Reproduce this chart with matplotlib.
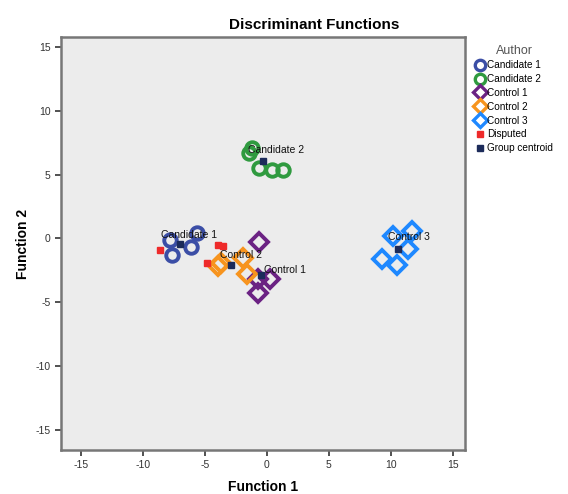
import numpy as np
import matplotlib.pyplot as plt
from matplotlib.lines import Line2D

plt.rcParams['axes.unicode_minus'] = False

# discriminant scores per group (function 1, function 2)
cand1_x = [-7.8, -5.6, -6.1, -7.6]
cand1_y = [-0.1, 0.4, -0.7, -1.3]
cand2_x = [-1.2, -1.4, -0.6, 0.4, 1.3]
cand2_y = [7.1, 6.7, 5.5, 5.4, 5.4]
ctrl1_x = [-0.6, -0.7, 0.3, -0.7]
ctrl1_y = [-0.3, -3.2, -3.2, -4.3]
ctrl2_x = [-3.9, -3.7, -1.9, -1.6]
ctrl2_y = [-2.2, -1.9, -1.5, -2.8]
ctrl3_x = [10.2, 11.7, 11.4, 9.3, 10.5]
ctrl3_y = [0.2, 0.6, -0.8, -1.6, -2.1]
disp_x = [-8.6, -3.9, -3.5, -4.8]
disp_y = [-0.9, -0.5, -0.6, -1.9]

groups = ['Candidate 1', 'Candidate 2', 'Control 1', 'Control 2', 'Control 3']
cent_x = [-7.0, -0.3, -0.5, -2.9, 10.6]
cent_y = [-0.4, 6.1, -2.9, -2.1, -0.8]
label_x = [-8.5, -1.5, -0.2, -3.8, 9.8]
label_y = [0.3, 6.9, -2.5, -1.3, 0.1]

ticks = [-15, -10, -5, 0, 5, 10, 15]

fig = plt.figure(figsize=(5.68, 4.94), dpi=100)
ax = fig.add_axes([0.107, 0.089, 0.712, 0.836])
ax.set_facecolor('#ececec')

blue = '#3b4ea6'
green = '#2f9a3f'
purple = '#6b2283'
orange = '#f7941e'
lblue = '#1e88ff'
red = '#ee2a2a'
navy = '#1c2b5a'

ax.plot(cand1_x, cand1_y, 'o', ms=9, mfc='none', mec=blue, mew=2.8, ls='none')
ax.plot(cand2_x, cand2_y, 'o', ms=9, mfc='none', mec=green, mew=2.8, ls='none')
ax.plot(ctrl1_x, ctrl1_y, 'D', ms=9, mfc='none', mec=purple, mew=2.8, ls='none')
ax.plot(ctrl2_x, ctrl2_y, 'D', ms=9, mfc='none', mec=orange, mew=2.8, ls='none')
ax.plot(ctrl3_x, ctrl3_y, 'D', ms=9, mfc='none', mec=lblue, mew=2.8, ls='none')
ax.plot(disp_x, disp_y, 's', ms=5, color=red, ls='none')
ax.plot(cent_x, cent_y, 's', ms=5, color=navy, ls='none')

for g, lx, ly in zip(groups, label_x, label_y):
    ax.text(lx, ly, g, fontsize=7.5, family='Liberation Sans', color='#111111',
            va='center', ha='left')

ax.set_xlim(-16.6, 16.0)
ax.set_ylim(-16.6, 15.8)
ax.set_xticks(ticks)
ax.set_yticks(ticks)
ax.tick_params(labelsize=7.5, colors='#333333', length=4, width=1.2)
for lab in ax.get_xticklabels() + ax.get_yticklabels():
    lab.set_family('Liberation Sans')
for s in ax.spines.values():
    s.set_color('#777777')
    s.set_linewidth(1.8)

ax.set_xlabel('Function 1', fontsize=10, fontweight='bold', family='Liberation Sans', labelpad=7)
ax.set_ylabel('Function 2', fontsize=10, fontweight='bold', family='Liberation Sans', labelpad=4)
ax.set_title('Discriminant Functions', fontsize=11, fontweight='bold', family='Liberation Sans',
             pad=6, x=0.626)

handles = [
    Line2D([], [], marker='o', ms=7.5, mfc='none', mec=blue, mew=2.4, ls='none'),
    Line2D([], [], marker='o', ms=7.5, mfc='none', mec=green, mew=2.4, ls='none'),
    Line2D([], [], marker='D', ms=7.5, mfc='none', mec=purple, mew=2.4, ls='none'),
    Line2D([], [], marker='D', ms=7.5, mfc='none', mec=orange, mew=2.4, ls='none'),
    Line2D([], [], marker='D', ms=7.5, mfc='none', mec=lblue, mew=2.4, ls='none'),
    Line2D([], [], marker='s', ms=4, color=red, ls='none'),
    Line2D([], [], marker='s', ms=4, color=navy, ls='none'),
]
leg = fig.legend(handles, groups + ['Disputed', 'Group centroid'], title='Author',
                 loc='upper left', bbox_to_anchor=(0.83, 0.918), frameon=False,
                 prop={'family': 'Liberation Sans', 'size': 7.2}, handlelength=0.9,
                 handletextpad=0.3, labelspacing=0.38, borderaxespad=0)
leg.get_title().set_fontsize(9)
leg.get_title().set_color('#555555')
leg.get_title().set_family('Liberation Sans')

fig.savefig('out.png', dpi=100)
